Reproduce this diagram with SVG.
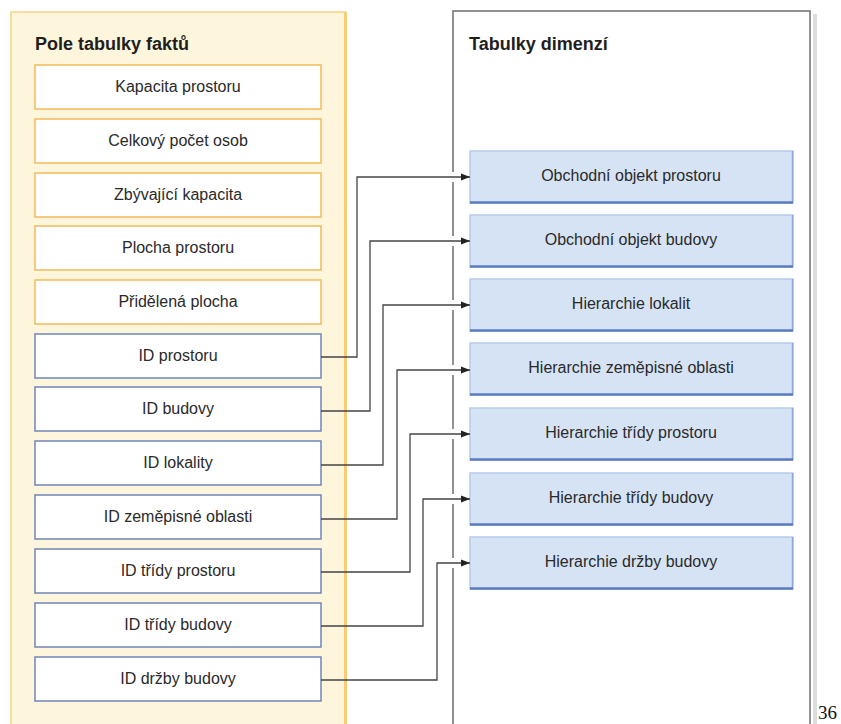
<svg xmlns="http://www.w3.org/2000/svg" width="841" height="724" viewBox="0 0 841 724">
  <style>
    .lbl { font-family: "Liberation Sans", Arial, sans-serif; font-size: 16px; fill: #2a2a2a; text-anchor: middle; }
    .ttl { font-family: "Liberation Sans", Arial, sans-serif; font-size: 18px; font-weight: bold; fill: #1e1e1e; }
    .fact { fill: #ffffff; stroke: #f5b957; stroke-width: 1.5; }
    .key { fill: #ffffff; stroke: #7085b9; stroke-width: 1.5; }
    .dim { fill: #d5e3f5; stroke: #b7cbe9; stroke-width: 1.5; }
    .dimedge { stroke: #5b7cc2; stroke-width: 2.5; fill: none; }
    .dimside { stroke: #8fa8d6; stroke-width: 1.5; fill: none; }
    .conn { fill: none; stroke: #444444; stroke-width: 1.3; }
    .gap { stroke: #ffffff; stroke-width: 4; }
  </style>
  <defs>
    <marker id="arrow" markerWidth="10" markerHeight="8" refX="9" refY="4" orient="auto" markerUnits="userSpaceOnUse">
      <path d="M0,0.5 L9,4 L0,7.5 Z" fill="#222222"/>
    </marker>
  </defs>

  <rect width="841" height="724" fill="#ffffff"/>

  <!-- fact table panel -->
  <g id="fact-panel">
    <rect x="11" y="12" width="334" height="720" fill="#fdf5dc" stroke="#f8dc9e" stroke-width="2"/>
    <line x1="345.5" y1="12" x2="345.5" y2="724" stroke="#f6cd76" stroke-width="3"/>
    <text class="ttl" x="35" y="50">Pole tabulky faktů</text>
  </g>

  <!-- dimension panel -->
  <g id="dim-panel">
    <rect x="813" y="14" width="4" height="710" fill="#dddddd"/>
    <rect x="453" y="11" width="357" height="720" fill="#ffffff" stroke="#777777" stroke-width="1.6"/>
    <text class="ttl" x="469" y="50">Tabulky dimenzí</text>
  </g>

  <!-- fact fields -->
  <g id="f-kapacita"><rect class="fact" x="35" y="65" width="286" height="44"/><text class="lbl" x="178" y="92">Kapacita prostoru</text></g>
  <g id="f-pocet"><rect class="fact" x="35" y="119" width="286" height="44"/><text class="lbl" x="178" y="146">Celkový počet osob</text></g>
  <g id="f-zbyvajici"><rect class="fact" x="35" y="173" width="286" height="44"/><text class="lbl" x="178" y="200">Zbývající kapacita</text></g>
  <g id="f-plocha"><rect class="fact" x="35" y="226" width="286" height="44"/><text class="lbl" x="178" y="253">Plocha prostoru</text></g>
  <g id="f-pridelena"><rect class="fact" x="35" y="280" width="286" height="44"/><text class="lbl" x="178" y="307">Přidělená plocha</text></g>
  <g id="k-prostor"><rect class="key" x="35" y="334" width="286" height="44"/><text class="lbl" x="178" y="361">ID prostoru</text></g>
  <g id="k-budova"><rect class="key" x="35" y="387" width="286" height="44"/><text class="lbl" x="178" y="414">ID budovy</text></g>
  <g id="k-lokalita"><rect class="key" x="35" y="441" width="286" height="44"/><text class="lbl" x="178" y="468">ID lokality</text></g>
  <g id="k-oblast"><rect class="key" x="35" y="495" width="286" height="44"/><text class="lbl" x="178" y="522">ID zeměpisné oblasti</text></g>
  <g id="k-trida-prostoru"><rect class="key" x="35" y="549" width="286" height="44"/><text class="lbl" x="178" y="576">ID třídy prostoru</text></g>
  <g id="k-trida-budovy"><rect class="key" x="35" y="603" width="286" height="44"/><text class="lbl" x="178" y="630">ID třídy budovy</text></g>
  <g id="k-drzba"><rect class="key" x="35" y="657" width="286" height="44"/><text class="lbl" x="178" y="684">ID držby budovy</text></g>

  <!-- dimension tables -->
  <g id="d-obj-prostoru"><rect class="dim" x="470" y="151" width="323" height="52"/><path class="dimside" d="M792.5,151 V202"/><path class="dimedge" d="M470,202.5 H793"/><text class="lbl" x="631" y="181">Obchodní objekt prostoru</text></g>
  <g id="d-obj-budovy"><rect class="dim" x="470" y="215" width="323" height="52"/><path class="dimside" d="M792.5,215 V266"/><path class="dimedge" d="M470,266.5 H793"/><text class="lbl" x="631" y="245">Obchodní objekt budovy</text></g>
  <g id="d-lokalit"><rect class="dim" x="470" y="279" width="323" height="52"/><path class="dimside" d="M792.5,279 V330"/><path class="dimedge" d="M470,330.5 H793"/><text class="lbl" x="631" y="309">Hierarchie lokalit</text></g>
  <g id="d-oblasti"><rect class="dim" x="470" y="343" width="323" height="52"/><path class="dimside" d="M792.5,343 V394"/><path class="dimedge" d="M470,394.5 H793"/><text class="lbl" x="631" y="373">Hierarchie zeměpisné oblasti</text></g>
  <g id="d-tridy-prostoru"><rect class="dim" x="470" y="408" width="323" height="52"/><path class="dimside" d="M792.5,408 V459"/><path class="dimedge" d="M470,459.5 H793"/><text class="lbl" x="631" y="438">Hierarchie třídy prostoru</text></g>
  <g id="d-tridy-budovy"><rect class="dim" x="470" y="473" width="323" height="52"/><path class="dimside" d="M792.5,473 V524"/><path class="dimedge" d="M470,524.5 H793"/><text class="lbl" x="631" y="503">Hierarchie třídy budovy</text></g>
  <g id="d-drzby"><rect class="dim" x="470" y="537" width="323" height="52"/><path class="dimside" d="M792.5,537 V588"/><path class="dimedge" d="M470,588.5 H793"/><text class="lbl" x="631" y="567">Hierarchie držby budovy</text></g>

  <!-- connectors: key field to dimension table -->
  <g id="connectors">
    <g class="gap">
      <line x1="453" y1="172" x2="453" y2="182"/>
      <line x1="453" y1="236" x2="453" y2="246"/>
      <line x1="453" y1="300" x2="453" y2="310"/>
      <line x1="453" y1="365" x2="453" y2="375"/>
      <line x1="453" y1="429" x2="453" y2="439"/>
      <line x1="453" y1="494" x2="453" y2="504"/>
      <line x1="453" y1="558" x2="453" y2="568"/>
    </g>
    <path class="conn" marker-end="url(#arrow)" d="M321,357 H357 V177 H470"/>
    <path class="conn" marker-end="url(#arrow)" d="M321,411 H370 V241 H470"/>
    <path class="conn" marker-end="url(#arrow)" d="M321,465 H383 V305 H470"/>
    <path class="conn" marker-end="url(#arrow)" d="M321,519 H397 V370 H470"/>
    <path class="conn" marker-end="url(#arrow)" d="M321,572 H410 V434 H470"/>
    <path class="conn" marker-end="url(#arrow)" d="M321,626 H423 V499 H470"/>
    <path class="conn" marker-end="url(#arrow)" d="M321,680 H437 V563 H470"/>
  </g>

  <text x="818" y="719" font-family="'Liberation Serif', 'Times New Roman', serif" font-size="19" fill="#111111">36</text>
</svg>
